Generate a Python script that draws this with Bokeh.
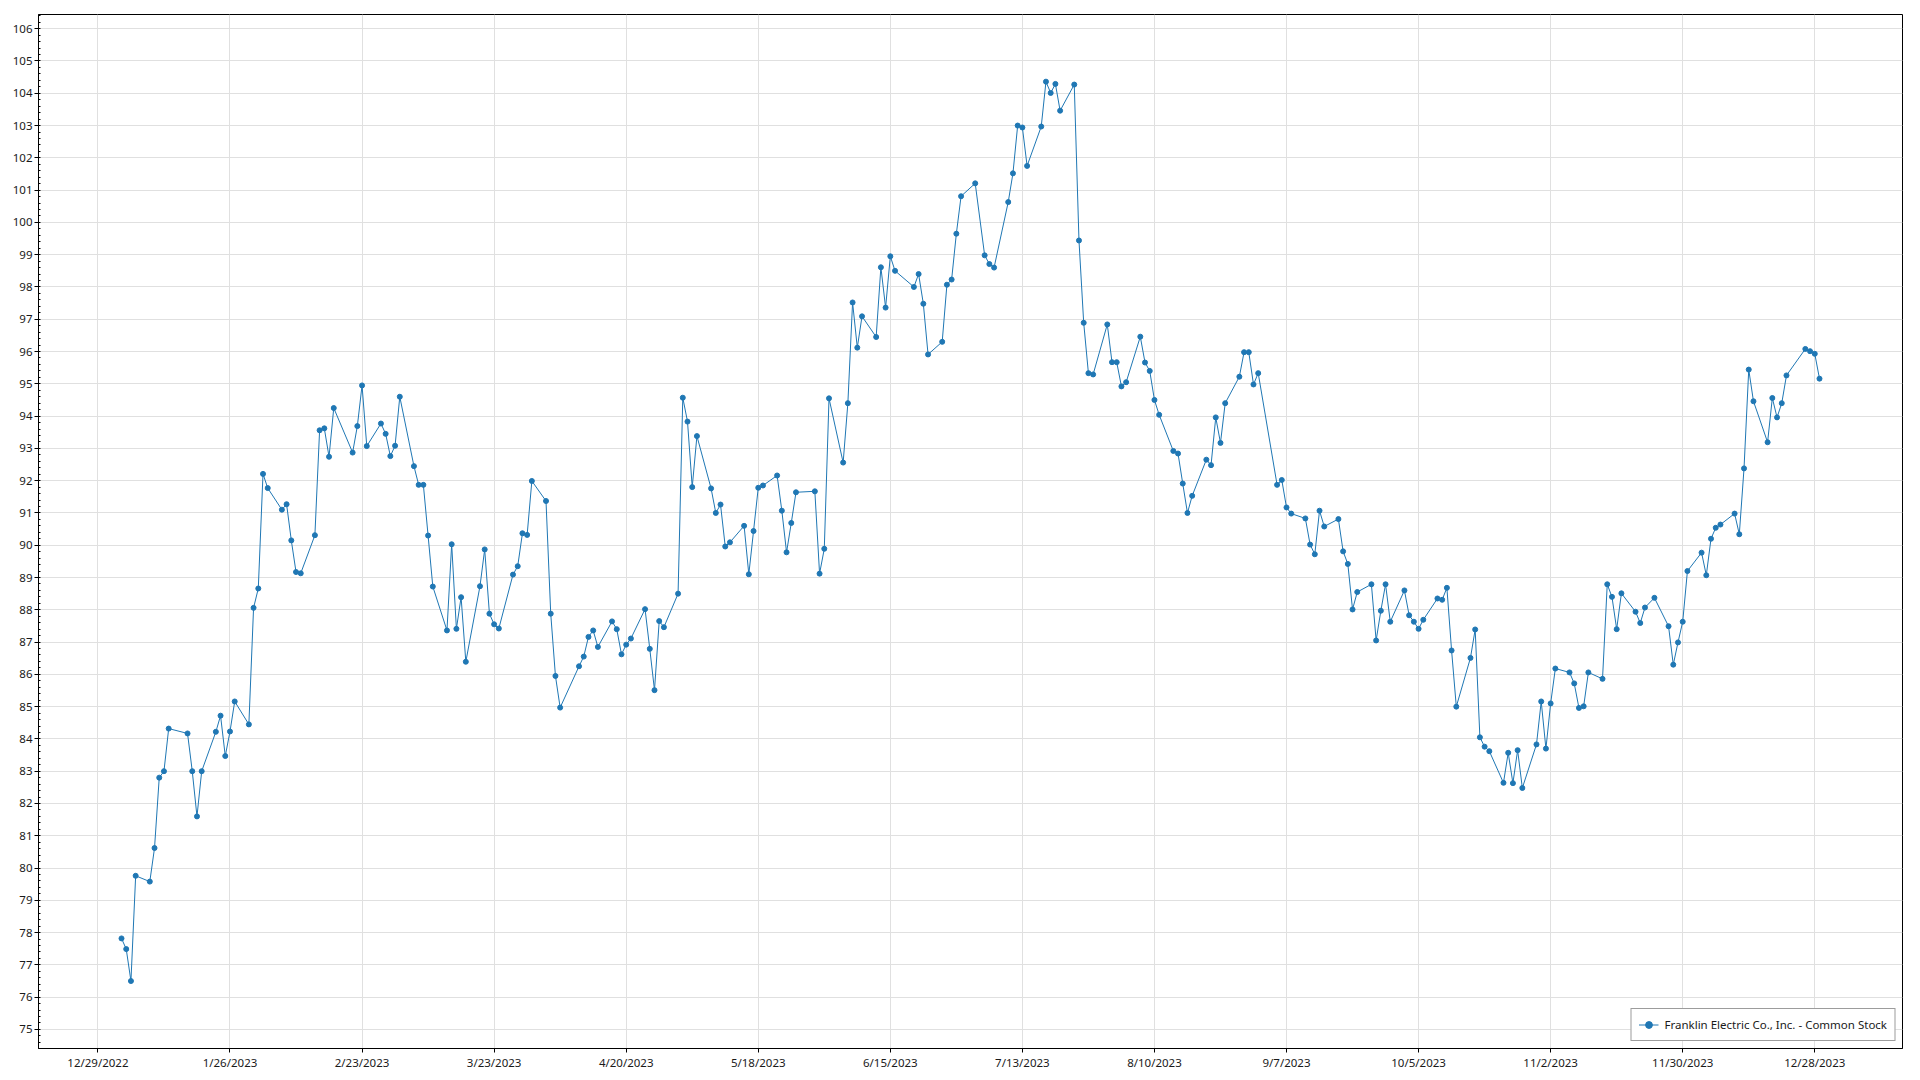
import pandas as pd
from bokeh.plotting import figure
from bokeh.models import (ColumnDataSource, FixedTicker, SingleIntervalTicker,
                          Range1d, Legend, LegendItem)
from bokeh.embed import file_html
from bokeh.resources import INLINE

# ---- data -------------------------------------------------------------
series_name = "Franklin Electric Co., Inc. - Common Stock"

market_holidays = ["2023-01-02", "2023-01-16", "2023-02-20", "2023-04-07",
                   "2023-05-29", "2023-06-19", "2023-07-04", "2023-09-04",
                   "2023-11-23", "2023-12-25"]
first_day = "2023-01-03"
last_day = "2023-12-29"

jan = [77.82, 77.49, 76.50, 79.76, 79.58, 80.62, 82.80, 83.00, 84.32, 84.17,
       83.00, 81.60, 83.00, 84.22, 84.72, 83.47, 84.23, 85.16, 84.45, 88.06]
feb = [88.66, 92.21, 91.77, 91.10, 91.27, 90.15, 89.17, 89.13, 90.31, 93.56,
       93.62, 92.74, 94.25, 92.87, 93.69, 94.95, 93.07, 93.77, 93.45]
mar = [92.76, 93.08, 94.60, 92.45, 91.87, 91.87, 90.30, 88.72, 87.36, 90.03,
       87.41, 88.39, 86.39, 88.73, 89.87, 87.88, 87.55, 87.42, 89.09, 89.35,
       90.37, 90.32, 91.99]
apr = [91.37, 87.88, 85.95, 84.97, 86.25, 86.55, 87.16, 87.36, 86.85, 87.64,
       87.40, 86.62, 86.92, 87.11, 88.02, 86.79, 85.51, 87.65, 87.46]
may = [88.50, 94.57, 93.83, 91.80, 93.38, 91.76, 91.00, 91.26, 89.96, 90.09,
       90.60, 89.10, 90.44, 91.78, 91.85, 92.16, 91.07, 89.78, 90.69, 91.64,
       91.67, 89.12]
jun = [89.89, 94.55, 92.56, 94.40, 97.52, 96.12, 97.09, 96.45, 98.61, 97.36,
       98.95, 98.50, 98.00, 98.40, 97.48, 95.91, 96.30, 98.07, 98.23, 99.65,
       100.81]
jul = [101.21, 98.98, 98.71, 98.60, 100.63, 101.52, 103.00, 102.94, 101.75,
       102.97, 104.36, 104.01, 104.29, 103.46, 104.27, 99.44, 96.89, 95.33,
       95.29, 96.84]
aug = [95.67, 95.67, 94.92, 95.05, 96.46, 95.66, 95.40, 94.50, 94.04, 92.92,
       92.84, 91.91, 91.00, 91.53, 92.65, 92.48, 93.96, 93.17, 94.40, 95.22,
       95.98, 95.98, 94.98]
sep = [95.33, 91.87, 92.02, 91.17, 90.98, 90.83, 90.02, 89.72, 91.07, 90.58,
       90.81, 89.81, 89.42, 88.01, 88.55, 88.79, 87.05, 87.97, 88.79, 87.63]
oct = [88.60, 87.83, 87.63, 87.41, 87.69, 88.35, 88.31, 88.68, 86.74, 85.00,
       86.51, 87.39, 84.05, 83.76, 83.62, 82.64, 83.57, 82.63, 83.65, 82.48,
       83.83, 85.16]
nov = [83.70, 85.10, 86.18, 86.06, 85.72, 84.96, 85.01, 86.06, 85.86, 88.79,
       88.40, 87.40, 88.51, 87.94, 87.59, 88.07, 88.37, 87.49, 86.30, 86.99,
       87.63]
dec = [89.20, 89.77, 89.07, 90.20, 90.54, 90.64, 90.98, 90.34, 92.38, 95.44,
       94.46, 93.19, 94.56, 93.96, 94.40, 95.26, 96.08, 96.01, 95.93, 95.16]

x_tick_dates = ["2022-12-29", "2023-01-26", "2023-02-23", "2023-03-23",
                "2023-04-20", "2023-05-18", "2023-06-15", "2023-07-13",
                "2023-08-10", "2023-09-07", "2023-10-05", "2023-11-02",
                "2023-11-30", "2023-12-28"]
x_tick_labels = ["12/29/2022", "1/26/2023", "2/23/2023", "3/23/2023",
                 "4/20/2023", "5/18/2023", "6/15/2023", "7/13/2023",
                 "8/10/2023", "9/7/2023", "10/5/2023", "11/2/2023",
                 "11/30/2023", "12/28/2023"]

# ---- build --------------------------------------------------------------
dates = pd.bdate_range(first_day, last_day, freq="C", holidays=market_holidays)
close = jan + feb + mar + apr + may + jun + jul + aug + sep + oct + nov + dec
assert len(dates) == len(close), (len(dates), len(close))

src = ColumnDataSource(dict(date=dates, close=close))

pad = pd.Timedelta(days=17.6)
x_start = dates[0] - pad
x_end = dates[-1] + pad

FONT = "Noto Sans"
COLOR = "#1f77b4"

p = figure(width=1911, height=1079, x_axis_type="datetime",
           output_backend="svg", toolbar_location=None,
           x_range=Range1d(x_start, x_end), y_range=Range1d(74.41, 106.44),
           min_border_left=38, min_border_right=9, min_border_top=14,
           min_border_bottom=31)

p.background_fill_color = "white"
p.border_fill_color = "white"
p.outline_line_color = "black"
p.outline_line_width = 1

r_line = p.line("date", "close", source=src, line_color=COLOR, line_width=1)
r_pts = p.scatter("date", "close", source=src, size=5, fill_color=COLOR,
                  line_color=COLOR)

tick_ms = [pd.Timestamp(d).value / 1e6 for d in x_tick_dates]
p.xaxis.ticker = FixedTicker(ticks=tick_ms)
p.xaxis.major_label_overrides = {t: lab for t, lab in zip(tick_ms, x_tick_labels)}
p.yaxis.ticker = SingleIntervalTicker(interval=1, num_minor_ticks=5)

for ax in (p.xaxis[0], p.yaxis[0]):
    ax.axis_line_color = "black"
    ax.major_tick_line_color = "black"
    ax.major_tick_out = 4
    ax.major_tick_in = 0
    ax.major_label_text_font = FONT
    ax.major_label_text_font_size = "11.5px"
    ax.major_label_text_color = "#1a1a1a"
    ax.major_label_standoff = 2
p.xaxis.minor_tick_line_color = None
p.yaxis.minor_tick_line_color = "black"
p.yaxis.minor_tick_in = 2
p.yaxis.minor_tick_out = 0

p.xgrid.grid_line_color = "#e0e0e0"
p.ygrid.grid_line_color = "#e0e0e0"
p.xgrid.grid_line_width = 1
p.ygrid.grid_line_width = 1

legend = Legend(items=[LegendItem(label=series_name, renderers=[r_line, r_pts])],
                location="bottom_right", margin=7, padding=7, spacing=0,
                glyph_width=20, glyph_height=17, label_height=17,
                label_standoff=6, label_text_font=FONT,
                label_text_font_size="11.5px", label_text_color="#1a1a1a",
                border_line_color="#3a3a3a", border_line_width=1,
                background_fill_color="white", background_fill_alpha=1)
p.add_layout(legend)

open("out.html", "w").write(file_html(p, INLINE))
